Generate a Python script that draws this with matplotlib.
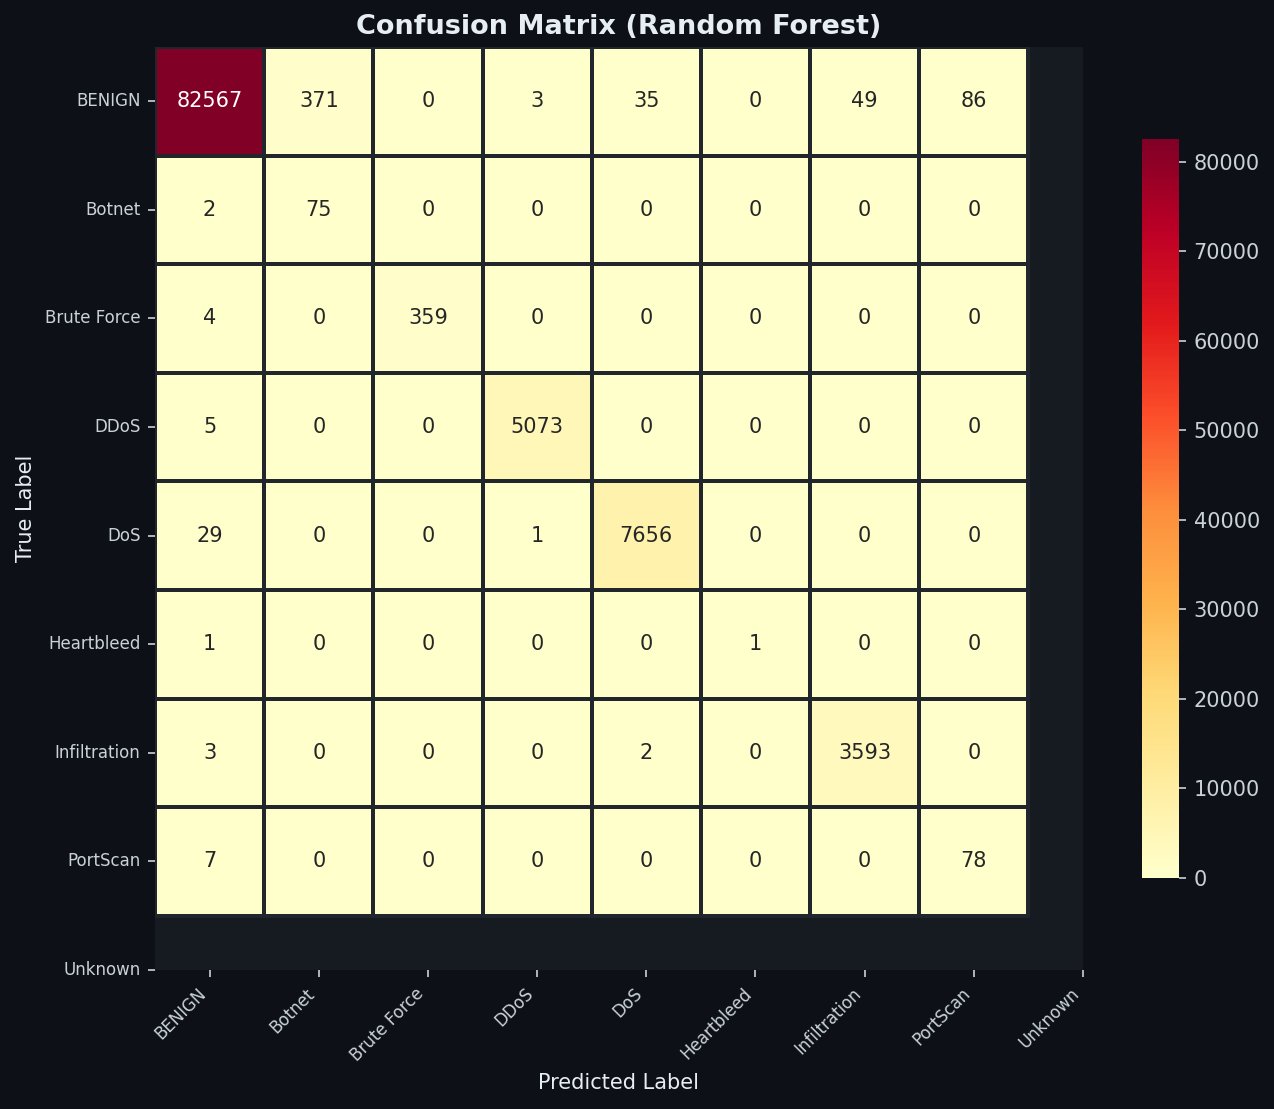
import numpy as np
import matplotlib
matplotlib.use("Agg")
import matplotlib.pyplot as plt
import seaborn as sns

labels = ["BENIGN", "Botnet", "Brute Force", "DDoS", "DoS", "Heartbleed",
          "Infiltration", "PortScan", "Unknown"]
row_benign = [82567, 371, 0, 3, 35, 0, 49, 86]
row_botnet = [2, 75, 0, 0, 0, 0, 0, 0]
row_brute = [4, 0, 359, 0, 0, 0, 0, 0]
row_ddos = [5, 0, 0, 5073, 0, 0, 0, 0]
row_dos = [29, 0, 0, 1, 7656, 0, 0, 0]
row_heart = [1, 0, 0, 0, 0, 1, 0, 0]
row_infil = [3, 0, 0, 0, 2, 0, 3593, 0]
row_port = [7, 0, 0, 0, 0, 0, 0, 78]

cm = np.array([row_benign, row_botnet, row_brute, row_ddos, row_dos,
               row_heart, row_infil, row_port])

FIG_BG = "#0d1117"
AX_BG = "#161b22"
TXT = "#e6edf3"
TICK = "#c9d1d9"

dpi = 150
fig = plt.figure(figsize=(1274 / dpi, 1109 / dpi), dpi=dpi, facecolor=FIG_BG)
ax = fig.add_axes([155 / 1274, 1 - 970 / 1109, 928 / 1274, 923 / 1109])
cax = fig.add_axes([1142 / 1274, 1 - 878 / 1109, 37 / 1274, 739 / 1109])
ax.set_facecolor(AX_BG)

sns.heatmap(cm, annot=True, fmt="d", cmap="YlOrRd", ax=ax, cbar_ax=cax,
            linewidths=1.0, linecolor="#21262d", annot_kws={"fontsize": 10})

ticks = np.arange(len(labels)) + 0.5
ax.set_xticks(ticks)
ax.set_yticks(ticks)
ax.set_xticklabels(labels, rotation=45, ha="right", fontsize=8, color=TICK)
ax.set_yticklabels(labels, rotation=0, fontsize=8, color=TICK)
ax.set_xlim(0, 8.5)
ax.set_ylim(8.5, 0)
ax.tick_params(colors=TICK, length=3.5)
for s in ax.spines.values():
    s.set_visible(False)

ax.set_xlabel("Predicted Label", color=TXT, fontsize=10)
ax.set_ylabel("True Label", color=TXT, fontsize=10)
ax.set_title("Confusion Matrix (Random Forest)", color=TXT, fontsize=13,
             fontweight="bold", pad=6)

cax.tick_params(colors=TICK, labelsize=10)
for t in cax.get_yticklabels():
    t.set_color(TICK)
cax.set_facecolor(FIG_BG)

fig.savefig("out.png", dpi=dpi, facecolor=FIG_BG)
